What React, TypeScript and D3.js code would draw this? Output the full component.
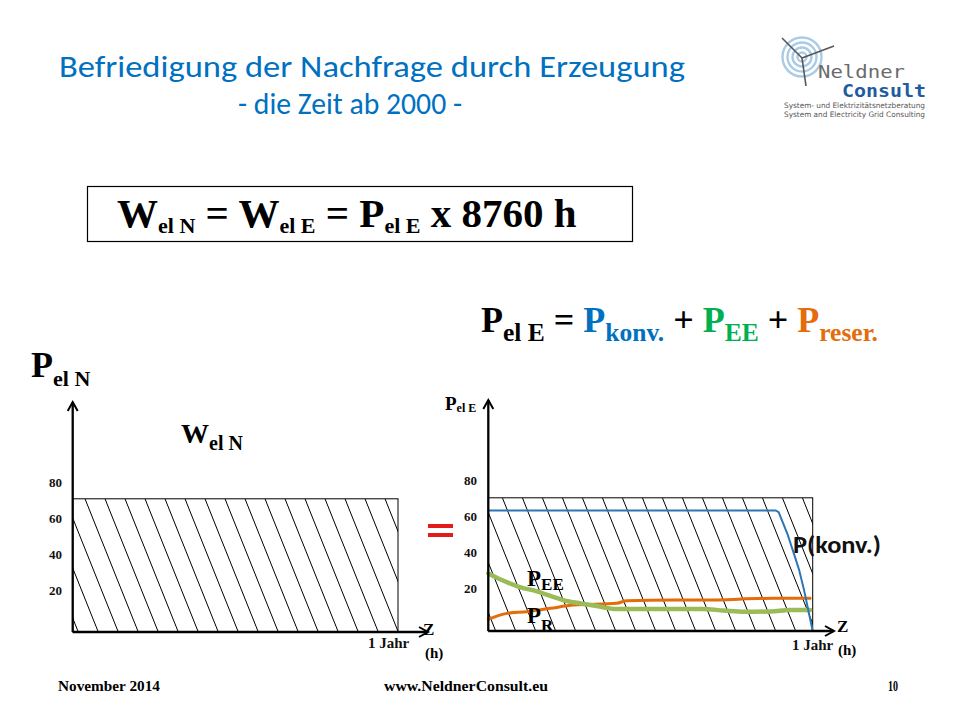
import React from "react";
import * as d3 from "d3";

// ---- data ----
const yTicks = [20, 40, 60, 80];
const demandLevel = 74; // W el N (constant demand)
const konvX = [0, 88.6, 89.5, 92.2, 94.2, 95.8, 97.3, 100];
const konvY = [67, 67, 66, 54, 43, 34, 23, 0];
const eeX = [0, 4, 9.5, 15, 20, 24.5, 28.5, 33, 39.6, 66, 72.5, 79, 87, 93, 99.2];
const eeY = [32, 28.5, 24.5, 22, 19, 16.5, 15.3, 14, 12.2, 12.2, 11.4, 10.7, 10.8, 11.7, 11.7];
const resX = [0, 5.7, 11.9, 19.2, 26.3, 39.6, 42.7, 57, 66.3, 87.9, 99.2];
const resY = [6.5, 9.8, 10.7, 12.6, 14.4, 15.4, 16.8, 17.2, 17.2, 18.2, 18.2];

const serif = "'Liberation Serif','Times New Roman',serif";
const sans = "Carlito, Calibri, Lato, 'Open Sans', sans-serif";

function hatch(x0: number, x1: number, y0: number, y1: number, phase: number, spacing = 20, slope = 0.4) {
  const out: [number, number][] = [];
  const drop = slope * (y1 - y0);
  for (let k = -40; k < 60; k++) {
    const xt = phase + k * spacing;
    const xb = xt + drop;
    if (xb >= x0 - 1 && xt <= x1 + 1) out.push([xt, xb]);
  }
  return out;
}

function Axes({ x0, y0, x1, yTop }: { x0: number; y0: number; x1: number; yTop: number }) {
  return (
    <g stroke="#000" fill="none" strokeWidth={2.3}>
      <line x1={x0} y1={y0} x2={x0} y2={yTop} />
      <polyline points={`${x0 - 5},${yTop + 9} ${x0},${yTop} ${x0 + 5},${yTop + 9}`} strokeWidth={2} />
      <line x1={x0} y1={y0} x2={x1} y2={y0} />
      <polyline points={`${x1 - 9},${y0 - 5} ${x1},${y0} ${x1 - 9},${y0 + 5}`} strokeWidth={2} />
    </g>
  );
}

export default function App() {
  // left chart scales
  const xL = d3.scaleLinear().domain([0, 100]).range([72.7, 398]);
  const yL = d3.scaleLinear().domain([0, 80]).range([632, 488]);
  // right chart scales
  const xR = d3.scaleLinear().domain([0, 100]).range([488.3, 812.7]);
  const yR = d3.scaleLinear().domain([0, 80]).range([631, 487]);

  const lineR = (xs: number[], ys: number[], curve: any) =>
    d3
      .line<number>()
      .x((_, i) => xR(xs[i]))
      .y((_, i) => yR(ys[i]))
      .curve(curve)(xs) as string;

  const lx0 = xL(0), lx1 = xL(100), ly0 = yL(demandLevel), ly1 = yL(0);
  const rx0 = xR(0), rx1 = xR(100), ry0 = yR(demandLevel), ry1 = yR(0);
  const hatchL = hatch(lx0, lx1, ly0, ly1, 85);
  const hatchR = hatch(rx0, rx1, ry0, ry1, 482.4);

  const tickStyle = { fontFamily: serif, fontWeight: 700, fontSize: 13, fill: "#111" } as const;

  return (
    <svg width={960} height={720} style={{ position: "absolute", left: 0, top: 0, background: "#fff" }}>
      <rect x={0} y={0} width={960} height={720} fill="#fff" />
      <defs>
        <clipPath id="clipL">
          <rect x={lx0} y={ly0} width={lx1 - lx0} height={ly1 - ly0} />
        </clipPath>
        <clipPath id="clipR">
          <rect x={rx0} y={ry0} width={rx1 - rx0} height={ry1 - ry0} />
        </clipPath>
      </defs>

      {/* Title */}
      <text x={59} y={77} fill="#0070c0" fontFamily={sans} fontSize={31} textLength={626} lengthAdjust="spacingAndGlyphs">
        Befriedigung der Nachfrage durch Erzeugung
      </text>
      <text x={238} y={114} fill="#0070c0" fontFamily={sans} fontSize={30} textLength={224} lengthAdjust="spacingAndGlyphs">
        - die Zeit ab 2000 -
      </text>

      {/* Logo */}
      <g>
        {[4.5, 9.5, 14.5, 19.5].map((r) => (
          <circle key={r} cx={802} cy={57} r={r} fill="none" stroke="#a9cbe6" strokeWidth={2.4} />
        ))}
        <g stroke="#555" strokeWidth={1.6}>
          <line x1={802} y1={58} x2={782} y2={38} />
          <line x1={802} y1={58} x2={834} y2={46} />
          <line x1={802} y1={58} x2={806} y2={86} />
        </g>
        <text x={818} y={78} fill="#6b6b6b" fontFamily="'DejaVu Sans Mono',monospace" fontSize={17} textLength={87} lengthAdjust="spacingAndGlyphs">
          Neldner
        </text>
        <text x={842} y={97} fill="#1d5c9e" fontWeight={700} fontFamily="'DejaVu Sans Mono',monospace" fontSize={17} textLength={84} lengthAdjust="spacingAndGlyphs">
          Consult
        </text>
        <text x={784} y={108} fill="#555" fontFamily="'DejaVu Sans',sans-serif" fontSize={7.5} textLength={141} lengthAdjust="spacingAndGlyphs">
          System- und Elektrizitätsnetzberatung
        </text>
        <text x={784} y={117} fill="#555" fontFamily="'DejaVu Sans',sans-serif" fontSize={7.5} textLength={141} lengthAdjust="spacingAndGlyphs">
          System and Electricity Grid Consulting
        </text>
      </g>

      {/* Formula box */}
      <rect x={87.5} y={186.5} width={545} height={55} fill="none" stroke="#000" strokeWidth={1.2} />
      <text x={117} y={227} fontFamily={serif} fontWeight={700} fontSize={41} style={{ whiteSpace: "pre" }}>
        <tspan>W</tspan>
        <tspan fontSize={22} dy={6}>el N</tspan>
        <tspan dy={-6}> = W</tspan>
        <tspan fontSize={22} dy={6}>el E</tspan>
        <tspan dy={-6}> = P</tspan>
        <tspan fontSize={22} dy={6}>el E</tspan>
        <tspan dy={-6}> x 8760 h</tspan>
      </text>

      {/* Second formula */}
      <text x={481} y={332} fontFamily={serif} fontWeight={700} fontSize={36} style={{ whiteSpace: "pre" }}>
        <tspan>P</tspan>
        <tspan fontSize={25.5} dy={9}>el E</tspan>
        <tspan dy={-9}> = </tspan>
        <tspan fill="#0070c0">P</tspan>
        <tspan fill="#0070c0" fontSize={25.5} dy={9}>konv.</tspan>
        <tspan dy={-9}> + </tspan>
        <tspan fill="#00b050">P</tspan>
        <tspan fill="#00b050" fontSize={25.5} dy={9}>EE</tspan>
        <tspan dy={-9}> + </tspan>
        <tspan fill="#e46c0a">P</tspan>
        <tspan fill="#e46c0a" fontSize={25.5} dy={9}>reser.</tspan>
      </text>

      {/* Left chart */}
      <text x={31} y={377} fontFamily={serif} fontWeight={700} fontSize={36} style={{ whiteSpace: "pre" }}>
        <tspan>P</tspan>
        <tspan fontSize={22} dy={9}>el N</tspan>
      </text>
      <text x={181} y={443} fontFamily={serif} fontWeight={700} fontSize={28} style={{ whiteSpace: "pre" }}>
        <tspan>W</tspan>
        <tspan fontSize={20} dy={7}>el N</tspan>
      </text>
      <g clipPath="url(#clipL)" stroke="#000" strokeWidth={1}>
        {hatchL.map(([a, b], i) => (
          <line key={i} x1={a} y1={ly0} x2={b} y2={ly1} />
        ))}
      </g>
      <rect x={lx0} y={ly0} width={lx1 - lx0} height={ly1 - ly0} fill="none" stroke="#000" strokeWidth={1} />
      {yTicks.map((t) => (
        <text key={t} x={62} y={yL(t) - 1} textAnchor="end" {...tickStyle}>
          {t}
        </text>
      ))}
      <Axes x0={lx0} y0={ly1} x1={428} yTop={402} />
      <text x={368} y={648} {...tickStyle} fontSize={15}>1 Jahr</text>
      <text x={423} y={635} fontFamily={serif} fontWeight={700} fontSize={17}>Z</text>
      <text x={425} y={658} fontFamily={serif} fontWeight={700} fontSize={15}>(h)</text>

      {/* Equals sign */}
      <rect x={428} y={524} width={25} height={4} fill="#e31b1b" />
      <rect x={428} y={533} width={25} height={4} fill="#e31b1b" />

      {/* Right chart */}
      <text x={445} y={410} fontFamily={serif} fontWeight={700} fontSize={19} style={{ whiteSpace: "pre" }}>
        <tspan>P</tspan>
        <tspan fontSize={12} dy={2}>el E</tspan>
      </text>
      <g clipPath="url(#clipR)" stroke="#000" strokeWidth={1}>
        {hatchR.map(([a, b], i) => (
          <line key={i} x1={a} y1={ry0} x2={b} y2={ry1} />
        ))}
      </g>
      <rect x={rx0} y={ry0} width={rx1 - rx0} height={ry1 - ry0} fill="none" stroke="#000" strokeWidth={1} />
      {yTicks.map((t) => (
        <text key={t} x={477} y={yR(t) - 2} textAnchor="end" {...tickStyle}>
          {t}
        </text>
      ))}
      <path d={lineR(resX, resY, d3.curveMonotoneX)} fill="none" stroke="#e46c0a" strokeWidth={3} strokeLinecap="round" />
      <path d={lineR(eeX, eeY, d3.curveMonotoneX)} fill="none" stroke="#9bbb59" strokeWidth={4.5} strokeLinecap="round" />
      <path d={lineR(konvX, konvY, d3.curveLinear)} fill="none" stroke="#2e75b6" strokeWidth={2} />
      <Axes x0={rx0} y0={ry1} x1={834} yTop={400} />
      <text x={793} y={553} fontFamily={sans} fontWeight={700} fontSize={25} fill="#111" textLength={88} lengthAdjust="spacingAndGlyphs">
        P(konv.)
      </text>
      <text x={527} y={586} fontFamily={serif} fontWeight={700} fontSize={23} style={{ whiteSpace: "pre" }}>
        <tspan>P</tspan>
        <tspan fontSize={17} dy={4}>EE</tspan>
      </text>
      <text x={527} y={623} fontFamily={serif} fontWeight={700} fontSize={23} style={{ whiteSpace: "pre" }}>
        <tspan>P</tspan>
        <tspan fontSize={17} dy={8}>R</tspan>
      </text>
      <text x={792} y={650} {...tickStyle} fontSize={15}>1 Jahr</text>
      <text x={837} y={632} fontFamily={serif} fontWeight={700} fontSize={17}>Z</text>
      <text x={838} y={655} fontFamily={serif} fontWeight={700} fontSize={15}>(h)</text>

      {/* Footer */}
      <text x={58} y={691} fontFamily={serif} fontWeight={700} fontSize={15} textLength={102} lengthAdjust="spacingAndGlyphs">
        November 2014
      </text>
      <text x={384} y={691} fontFamily={serif} fontWeight={700} fontSize={15} textLength={164} lengthAdjust="spacingAndGlyphs">
        www.NeldnerConsult.eu
      </text>
      <text x={888} y={691} fontFamily={serif} fontWeight={700} fontSize={15} textLength={10} lengthAdjust="spacingAndGlyphs">
        10
      </text>
    </svg>
  );
}
